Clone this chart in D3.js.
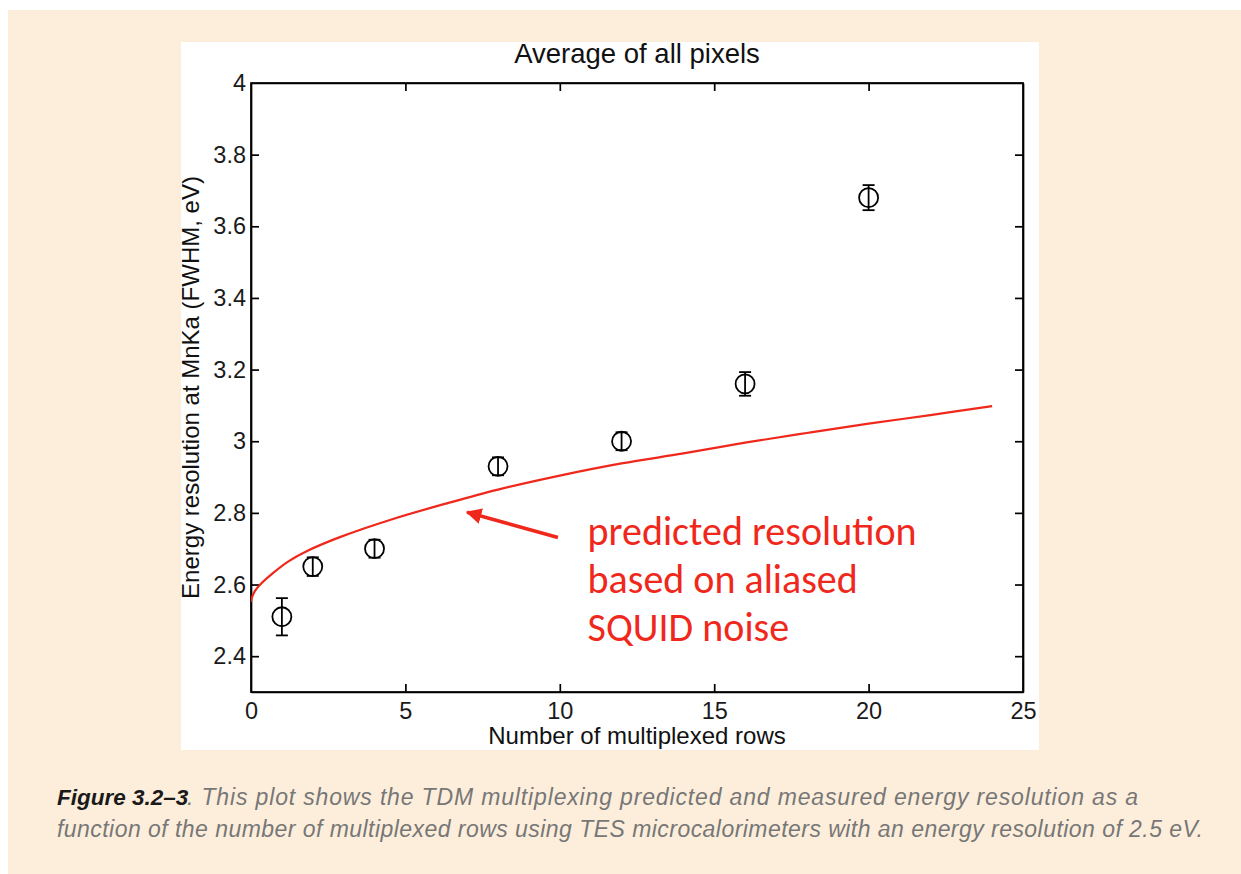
<!DOCTYPE html>
<html>
<head>
<meta charset="utf-8">
<script src="https://cdn.jsdelivr.net/npm/d3@7"></script>
<style>
  html, body { margin: 0; padding: 0; background: #ffffff; }
  svg { display: block; }
</style>
</head>
<body>
<svg id="chart" width="1241" height="874"></svg>
<script>
// ---------- data ----------
const rows        = [1, 2, 4, 8, 12, 16, 20];
const resolution  = [2.51, 2.65, 2.70, 2.93, 3.00, 3.16, 3.68];
const errorBar    = [0.052, 0.026, 0.025, 0.025, 0.025, 0.033, 0.035];

const predRows    = [0, 0.04, 0.12, 0.3, 0.7, 1.2, 1.8, 2.9, 4.6, 6.4, 8, 10, 12, 14, 16, 18, 20, 22, 24];
const predValues  = [2.552, 2.566, 2.581, 2.600, 2.631, 2.664, 2.693, 2.733, 2.783, 2.828, 2.865, 2.904, 2.938, 2.966, 2.996, 3.023, 3.049, 3.073, 3.098];

const xTicks = [0, 5, 10, 15, 20, 25];
const yTicks = [2.4, 2.6, 2.8, 3.0, 3.2, 3.4, 3.6, 3.8, 4.0];

const titleText  = "Average of all pixels";
const xLabelText = "Number of multiplexed rows";
const yLabelText = "Energy resolution at MnKa (FWHM, eV)";
const noteLines  = ["predicted resolution", "based on aliased", "SQUID noise"];
const captionBold = "Figure 3.2\u20133";
const captionLine1 = ". This plot shows the TDM multiplexing predicted and measured energy resolution as a";
const captionLine2 = "function of the number of multiplexed rows using TES microcalorimeters with an energy resolution of 2.5 eV.";

// ---------- layout ----------
const svg = d3.select("#chart");
const W = 1241, H = 874;
const plot = { left: 251, right: 1023, top: 83, bottom: 692 };
const cream = "#fdeedb";
const red = "#f0281c";

svg.append("rect").attr("x", 8).attr("y", 10).attr("width", W - 8).attr("height", H - 10).attr("fill", cream);
svg.append("rect").attr("x", 181).attr("y", 42).attr("width", 858).attr("height", 708).attr("fill", "#ffffff");

const x = d3.scaleLinear().domain([0, 25]).range([plot.left, plot.right]);
const y = d3.scaleLinear().domain([2.3, 4.0]).range([plot.bottom, plot.top]);

const axisFont = "'Liberation Sans', Arial, Helvetica, sans-serif";
const fmt = d => String(+d.toFixed(1));

function styleAxis(g) {
  g.selectAll("path.domain").attr("stroke", "#000").attr("stroke-width", 1.7);
  g.selectAll(".tick line").attr("stroke", "#000").attr("stroke-width", 1.7);
  g.selectAll(".tick text").attr("fill", "#1a1a1a").style("font-family", axisFont).style("font-size", "23.5px");
}

// bottom axis
const gx = svg.append("g").attr("transform", `translate(0,${plot.bottom})`)
  .call(d3.axisBottom(x).tickValues(xTicks).tickSizeInner(-8).tickSizeOuter(0).tickPadding(10).tickFormat(d3.format("d")));
styleAxis(gx);
// top axis (mirror)
const gxt = svg.append("g").attr("transform", `translate(0,${plot.top})`)
  .call(d3.axisTop(x).tickValues(xTicks).tickSizeInner(-8).tickSizeOuter(0).tickFormat(""));
styleAxis(gxt);
// left axis
const gy = svg.append("g").attr("transform", `translate(${plot.left},0)`)
  .call(d3.axisLeft(y).tickValues(yTicks).tickSizeInner(-8).tickSizeOuter(0).tickPadding(5).tickFormat(fmt));
styleAxis(gy);
// right axis (mirror)
const gyr = svg.append("g").attr("transform", `translate(${plot.right},0)`)
  .call(d3.axisRight(y).tickValues(yTicks).tickSizeInner(-8).tickSizeOuter(0).tickFormat(""));
styleAxis(gyr);
gx.selectAll(".tick").filter(d => d === 0 || d === 25).select("line").remove();
gxt.selectAll(".tick").filter(d => d === 0 || d === 25).select("line").remove();
gy.selectAll(".tick").filter(d => d === 4).select("line").remove();
gyr.selectAll(".tick").filter(d => d === 4).select("line").remove();

// frame
svg.append("rect")
  .attr("x", x(0)).attr("y", y(4)).attr("width", x(25) - x(0)).attr("height", y(2.3) - y(4))
  .attr("fill", "none").attr("stroke", "#000").attr("stroke-width", 1.7);

// title
svg.append("text").attr("x", (plot.left + plot.right) / 2).attr("y", 63)
  .attr("text-anchor", "middle").style("font-family", axisFont).style("font-size", "27.5px").attr("fill", "#111")
  .text(titleText);
// x label
svg.append("text").attr("x", (plot.left + plot.right) / 2).attr("y", 744)
  .attr("text-anchor", "middle").style("font-family", axisFont).style("font-size", "24px").attr("fill", "#111")
  .text(xLabelText);
// y label
svg.append("text").attr("transform", `translate(199,${(plot.top + plot.bottom) / 2}) rotate(-90)`)
  .attr("text-anchor", "middle").style("font-family", axisFont).style("font-size", "24px").attr("fill", "#111")
  .text(yLabelText);

// predicted curve
svg.append("clipPath").attr("id", "plotclip").append("rect")
  .attr("x", plot.left).attr("y", plot.top).attr("width", plot.right - plot.left).attr("height", plot.bottom - plot.top);
const line = d3.line().x(d => x(d[0])).y(d => y(d[1])).curve(d3.curveCatmullRom.alpha(0.5));
svg.append("path").datum(predRows.map((r, i) => [r, predValues[i]]))
  .attr("d", line).attr("fill", "none").attr("stroke", red).attr("stroke-width", 2.2)
  .attr("clip-path", "url(#plotclip)");

// data points with error bars
const pts = rows.map((r, i) => ({ r, v: resolution[i], e: errorBar[i] }));
const pg = svg.append("g").attr("stroke", "#000").attr("stroke-width", 1.8).attr("fill", "none");
const capHalf = 6;
pts.forEach(p => {
  const cx = x(p.r), lo = y(p.v - p.e), hi = y(p.v + p.e);
  pg.append("line").attr("x1", cx).attr("x2", cx).attr("y1", lo).attr("y2", hi);
  pg.append("line").attr("x1", cx - capHalf).attr("x2", cx + capHalf).attr("y1", lo).attr("y2", lo);
  pg.append("line").attr("x1", cx - capHalf).attr("x2", cx + capHalf).attr("y1", hi).attr("y2", hi);
  pg.append("ellipse").attr("cx", cx).attr("cy", y(p.v)).attr("rx", 9.5).attr("ry", 9.5);
});

// annotation arrow
const defs = svg.append("defs");
defs.append("marker").attr("id", "arrowhead").attr("viewBox", "0 0 10 10").attr("refX", 9).attr("refY", 5)
  .attr("markerWidth", 4.4).attr("markerHeight", 4.4).attr("orient", "auto").attr("markerUnits", "strokeWidth")
  .append("path").attr("d", "M0,0 L10,5 L0,10 Z").attr("fill", red);
svg.append("line")
  .attr("x1", x(9.94)).attr("y1", y(2.731)).attr("x2", x(7.0)).attr("y2", y(2.802))
  .attr("stroke", red).attr("stroke-width", 3.6).attr("marker-end", "url(#arrowhead)");

// annotation text
const noteFont = "Carlito, Lato, 'Open Sans', sans-serif";
const baselines = [2.71, 2.576, 2.442];
noteLines.forEach((t, i) => {
  svg.append("text").attr("x", x(10.9)).attr("y", y(baselines[i]))
    .style("font-family", noteFont).style("font-size", "40px").attr("fill", red).text(t);
});

// caption
const capFont = "'Liberation Sans', Arial, Helvetica, sans-serif";
svg.append("text").attr("x", 57).attr("y", 805).style("font-family", capFont)
  .style("font-size", "22.5px").style("font-style", "italic").style("font-weight", "bold")
  .attr("fill", "#1a1a1a").text(captionBold);
svg.append("text").attr("x", 187).attr("y", 805).style("font-family", capFont)
  .style("font-size", "23px").style("font-style", "italic")
  .attr("fill", "#777777").attr("textLength", 951).attr("lengthAdjust", "spacing").text(captionLine1);
svg.append("text").attr("x", 57).attr("y", 837).style("font-family", capFont)
  .style("font-size", "23px").style("font-style", "italic").attr("fill", "#777777")
  .attr("textLength", 1146).attr("lengthAdjust", "spacing").text(captionLine2);
</script>
</body>
</html>
